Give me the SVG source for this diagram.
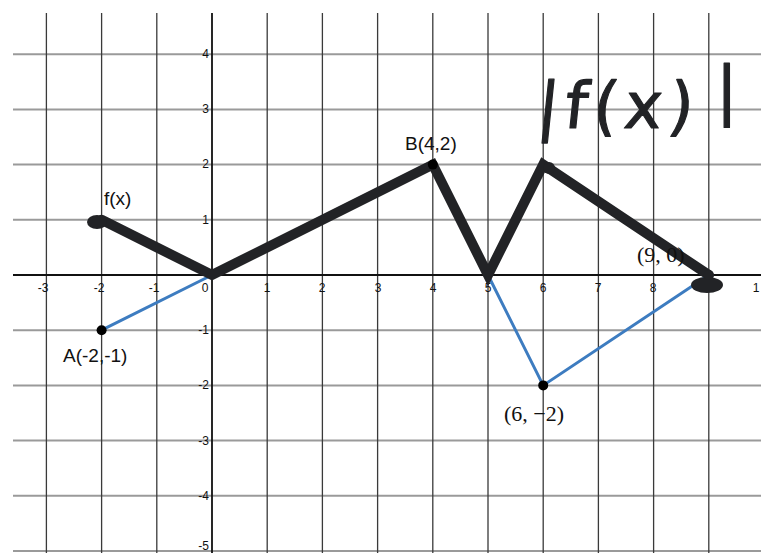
<svg xmlns="http://www.w3.org/2000/svg" width="761" height="553" viewBox="0 0 761 553">
<style>
.gv{stroke:#3a3a3a;stroke-width:1.3;fill:none}
.gh{stroke:#9a9a9a;stroke-width:2;fill:none}
.axis{stroke:#111;stroke-width:1.8;fill:none}
.tick{font-family:"Liberation Sans",Arial,sans-serif;font-size:12px;fill:#111}
.lbl{font-family:"Liberation Sans",Arial,sans-serif;font-size:19px;fill:#111}
.math{font-family:"Liberation Serif","DejaVu Serif",serif;font-size:22px;fill:#111}
.f{stroke:#222326;stroke-width:10;fill:none;stroke-linejoin:miter;stroke-linecap:round}
.g{stroke:#3d7cc0;stroke-width:3;fill:none}
.dot{fill:#000}
.hw{font-family:"DejaVu Sans",sans-serif;font-size:64px;fill:#222326;stroke:#222326;stroke-width:1.2;stroke-linejoin:round}
</style>
<rect width="761" height="553" fill="#fff"/>
<g id="grid">
<path class="gh" d="M13 54.2H761M13 109.4H761M13 164.6H761M13 219.8H761M13 330.2H761M13 385.4H761M13 440.6H761M13 495.8H761M13 551H761"/>
<path class="gv" d="M46.4 13V553M101.6 13V553M156.8 13V553M267.2 13V553M322.4 13V553M377.6 13V553M432.8 13V553M488 13V553M543.2 13V553M598.4 13V553M653.6 13V553M708.8 13V553"/>
</g>
<g id="axes">
<path class="axis" d="M212 13V553M13 275H761"/>
<g class="tick" text-anchor="middle">
<text x="43" y="292">-3</text><text x="99" y="292">-2</text><text x="154" y="292">-1</text><text x="205" y="292">0</text>
<text x="267" y="292">1</text><text x="322" y="292">2</text><text x="378" y="292">3</text><text x="433" y="292">4</text>
<text x="488" y="292">5</text><text x="543" y="292">6</text><text x="598" y="292">7</text><text x="653" y="292">8</text><text x="756" y="292">1</text>
</g>
<g class="tick" text-anchor="end">
<text x="209" y="58">4</text><text x="209" y="113">3</text><text x="209" y="168">2</text><text x="209" y="224">1</text>
<text x="209" y="334">-1</text><text x="209" y="389">-2</text><text x="209" y="445">-3</text><text x="209" y="500">-4</text><text x="209" y="550">-5</text>
</g>
</g>
<g id="connectors">
<polyline class="g" points="101.6,330.2 212,275"/>
<polyline class="g" points="488,275 543.2,385.4 708.8,275"/>
<polyline class="f" points="101.6,219.8 212,275 432.8,164.6 488,275 543.2,164.6 708.8,275"/>
<ellipse cx="97" cy="222" rx="10" ry="7" fill="#222326"/>
<ellipse cx="707" cy="285" rx="16" ry="8" fill="#222326"/>
<circle cx="708.8" cy="275" r="5" fill="#222326"/>
<circle cx="549" cy="168" r="6" fill="#222326"/>
</g>
<g id="pointA"><circle class="dot" cx="101.6" cy="330.2" r="5"/><text class="lbl" x="63" y="362">A(-2,-1)</text></g>
<g id="pointB"><circle class="dot" cx="432.8" cy="164.6" r="5"/><text class="lbl" x="405" y="150">B(4,2)</text></g>
<g id="point62"><circle class="dot" cx="543.2" cy="385.4" r="5"/><text class="math" x="504" y="421">(6, −2)</text></g>
<g id="point90"><text class="math" x="637" y="262">(9, 0)</text></g>
<g id="fx"><text class="lbl" x="104" y="205">f(x)</text></g>
<g id="absfx">
<text class="hw" x="536" y="128" letter-spacing="6" transform="skewX(-6) translate(13 0)">|f(x)</text>
<text class="hw" x="716" y="112">|</text>
</g>
</svg>
